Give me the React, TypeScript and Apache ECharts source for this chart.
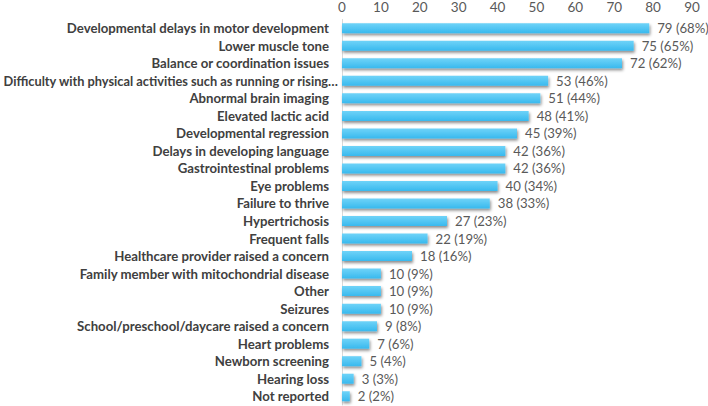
import React, { useEffect, useRef } from "react";
import * as echarts from "echarts";

const categories = [
  "Developmental delays in motor development",
  "Lower muscle tone",
  "Balance or coordination issues",
  "Difficulty with physical activities such as running or rising…",
  "Abnormal brain imaging",
  "Elevated lactic acid",
  "Developmental regression",
  "Delays in developing language",
  "Gastrointestinal problems",
  "Eye problems",
  "Failure to thrive",
  "Hypertrichosis",
  "Frequent falls",
  "Healthcare provider raised a concern",
  "Family member with mitochondrial disease",
  "Other",
  "Seizures",
  "School/preschool/daycare raised a concern",
  "Heart problems",
  "Newborn screening",
  "Hearing loss",
  "Not reported",
];
const counts = [79, 75, 72, 53, 51, 48, 45, 42, 42, 40, 38, 27, 22, 18, 10, 10, 10, 9, 7, 5, 3, 2];
const percents = [68, 65, 62, 46, 44, 41, 39, 36, 36, 34, 33, 23, 19, 16, 9, 9, 9, 8, 6, 4, 3, 2];

const labelFont = { color: "#404040", fontFamily: "Lato", fontWeight: "bold" as const, fontSize: 13.2 };

export default function App() {
  const ref = useRef<HTMLDivElement>(null);
  useEffect(() => {
    const chart = echarts.init(ref.current!, null, { renderer: "svg" });
    chart.setOption({
      animation: false,
      backgroundColor: "#ffffff",
      grid: { left: 342, top: 19.5, width: 350, height: 385.5, containLabel: false, outerBoundsMode: "none" },
      xAxis: {
        type: "value",
        position: "top",
        min: 0,
        max: 90,
        interval: 10,
        axisLine: { show: false },
        axisTick: { show: false },
        splitLine: { show: false },
        axisLabel: { color: "#595959", fontFamily: "Lato", fontSize: 13.5, margin: 6 },
      },
      yAxis: {
        type: "category",
        inverse: true,
        data: categories,
        axisLine: { show: true, lineStyle: { color: "#d9d9d9", width: 1 } },
        axisTick: { show: false },
        axisLabel: {
          ...labelFont,
          margin: 3,
          interval: 0,
          formatter: (v: string) => (v.endsWith("…") ? `{long|${v}}` : `{std|${v}}`),
          rich: {
            std: { ...labelFont, padding: [0, 10, 0, 0] },
            long: { ...labelFont, fontSize: 12.8, padding: [0, 1, 0, 0] },
          },
        },
      },
      series: [
        {
          type: "bar",
          data: counts,
          barWidth: 10,
          itemStyle: {
            color: new echarts.graphic.LinearGradient(0, 0, 0, 1, [
              { offset: 0, color: "#6fd3f8" },
              { offset: 1, color: "#38b9ee" },
            ]),
            shadowColor: "rgba(0,0,0,0.45)",
            shadowBlur: 3,
            shadowOffsetX: 1,
            shadowOffsetY: 2,
          },
          label: {
            show: true,
            position: "right",
            distance: 8,
            color: "#595959",
            fontFamily: "Lato",
            fontSize: 13.2,
            formatter: (p: any) => `${counts[p.dataIndex]} (${percents[p.dataIndex]}%)`,
          },
        },
      ],
    });
    return () => chart.dispose();
  }, []);
  return <div ref={ref} style={{ width: 708, height: 406, position: "fixed", left: 0, top: 0 }} />;
}
